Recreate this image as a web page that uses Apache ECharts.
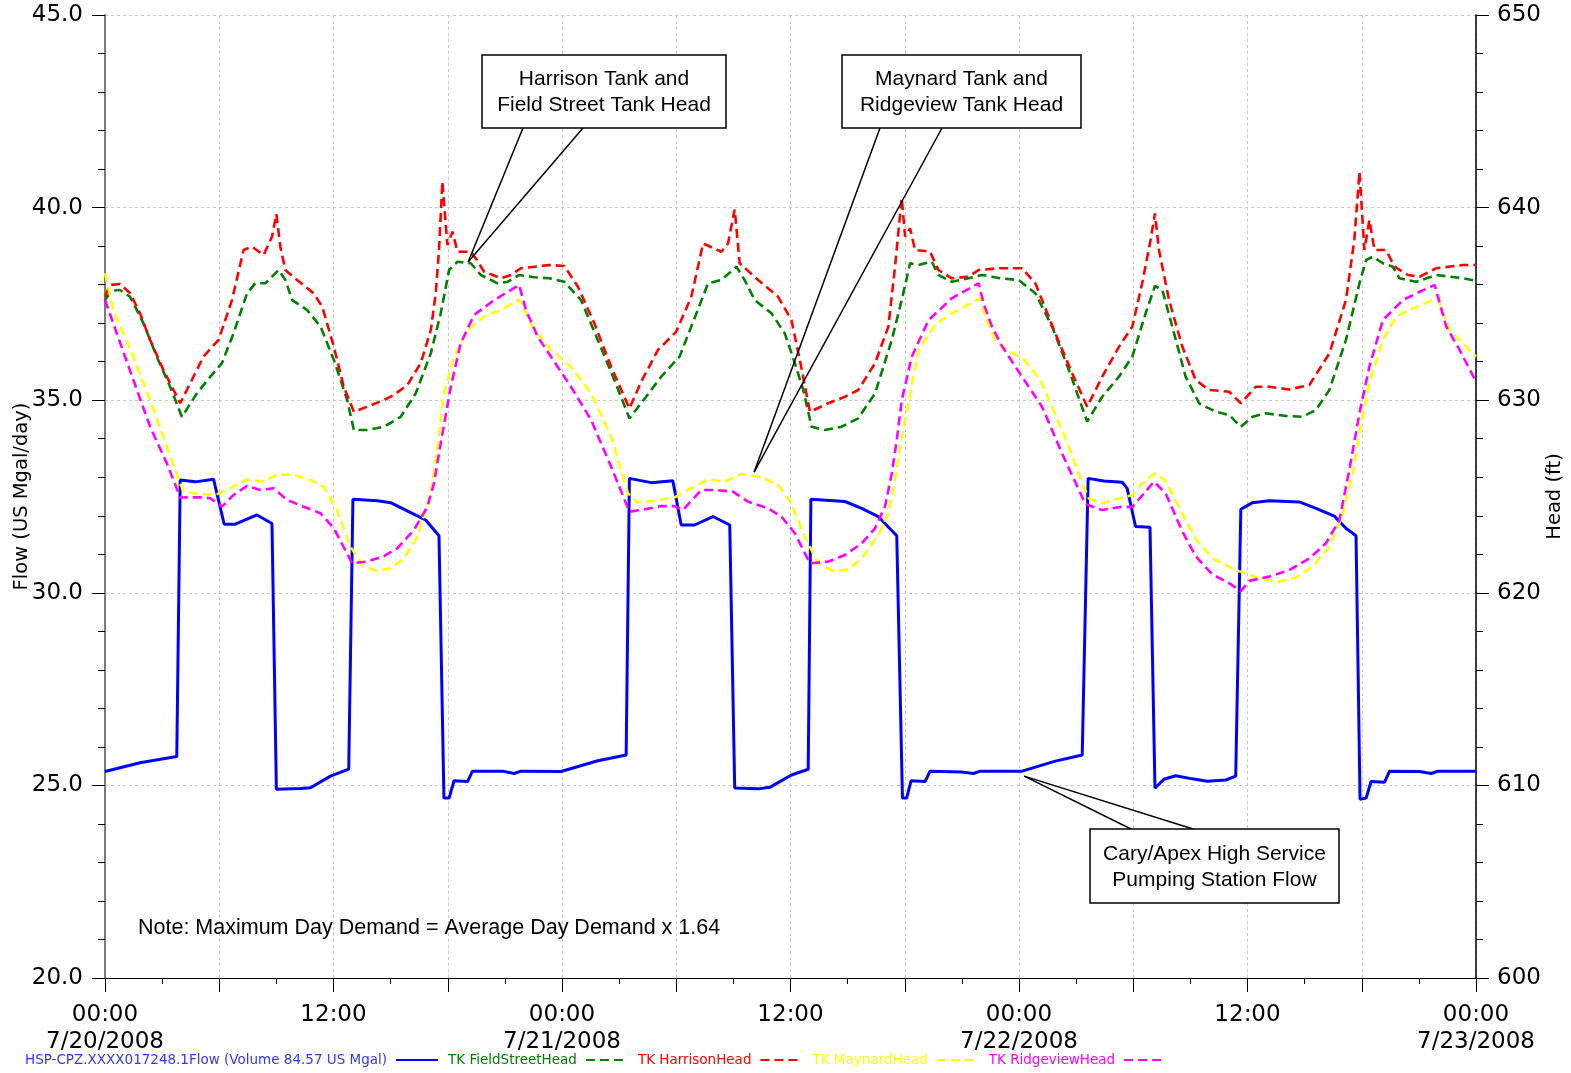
<!DOCTYPE html>
<html><head><meta charset="utf-8">
<script src="https://cdn.jsdelivr.net/npm/echarts@6/dist/echarts.min.js"></script>
<style>html,body{margin:0;padding:0;background:#fff}#c{width:1571px;height:1073px}</style>
</head><body><div id="c"></div>
<script>
const flowName = 'HSP-CPZ.XXXX017248.1Flow (Volume 84.57 US Mgal)';
const seriesNames = [flowName, 'TK FieldStreetHead', 'TK HarrisonHead', 'TK MaynardHead', 'TK RidgeviewHead'];
const seriesColors = ['#0000ff', '#008000', '#ff0000', '#ffff00', '#ff00ff'];
const xTickHours = [0, 12, 24, 36, 48, 60, 72];
const xTickLabels = ['00:00\n7/20/2008', '12:00', '00:00\n7/21/2008', '12:00', '00:00\n7/22/2008', '12:00', '00:00\n7/23/2008'];

// [hour since 7/20/2008 00:00, flow in US Mgal/day]
const flowData = [
[0,25.36],[1.84,25.59],[3.77,25.75],[3.95,32.93],[4.74,32.88],[5.70,32.95],[5.79,32.95],[6.26,31.78],[6.84,31.78],[7.98,32.02],[8.77,31.80],[9.00,24.90],[10.26,24.92],[10.79,24.94],[11.84,25.24],[12.80,25.42],[13.02,32.43],[14.30,32.39],[15.00,32.34],[16.05,32.08],[16.84,31.89],[17.54,31.48],[17.80,24.67],[18.07,24.67],[18.33,25.12],[19.04,25.10],[19.30,25.37],[20.88,25.37],[21.49,25.31],[21.84,25.37],[23.95,25.36],
[25.88,25.64],[27.37,25.79],[27.54,32.97],[28.68,32.86],[29.82,32.91],[30.26,31.76],[30.96,31.76],[31.93,31.98],[32.81,31.76],[33.07,24.93],[34.30,24.91],[34.91,24.95],[36.05,25.27],[36.93,25.42],[37.07,32.43],[38.86,32.37],[39.74,32.19],[40.61,31.98],[41.58,31.48],[41.88,24.67],[42.10,24.67],[42.33,25.12],[43.07,25.10],[43.33,25.37],[44.99,25.35],[45.61,25.31],[45.96,25.37],[48.16,25.37],
[49.91,25.63],[51.32,25.79],[51.63,32.97],[52.46,32.90],[53.42,32.87],[53.68,32.71],[54.12,31.72],[54.88,31.70],[55.14,24.93],[55.61,25.16],[56.23,25.25],[57.10,25.17],[57.89,25.11],[58.86,25.14],[59.38,25.24],[59.65,32.17],[60.26,32.34],[61.14,32.39],[62.72,32.36],[63.60,32.19],[64.56,31.99],[65.18,31.67],[65.70,31.48],[65.91,24.64],[66.23,24.67],[66.49,25.10],[67.19,25.08],[67.46,25.37],[69.04,25.36],[69.65,25.31],[70.00,25.37],[72.00,25.37]
];

// [hour, head in ft]
const fieldStreetData = [
[0,635.20],[0.35,635.69],[0.79,635.72],[1.32,635.37],[2.02,633.99],[2.72,632.26],[3.42,630.70],[4.04,629.14],[4.83,630.36],[5.53,631.22],[6.14,631.92],[6.75,633.47],[7.46,635.55],[7.89,636.07],[8.42,636.07],[9.12,636.76],[9.47,636.24],[9.83,635.20],[10.62,634.68],[11.32,633.82],[12.02,632.09],[12.72,630.01],[13.07,628.45],[13.77,628.45],[14.65,628.62],[15.53,629.14],[16.32,630.36],[17.11,632.43],[17.63,634.51],[18.07,636.76],[18.51,637.19],[19.21,637.11],[19.74,636.50],[20.62,636.07],[21.14,636.15],[21.75,636.50],[22.54,636.38],[23.33,636.33],
[24.12,636.15],[25.00,635.20],[25.88,633.13],[26.75,631.05],[27.54,629.06],[28.42,630.18],[29.21,631.22],[30.17,632.26],[30.79,633.82],[31.67,636.07],[32.37,636.24],[33.16,636.93],[33.59,636.24],[34.12,635.20],[35.00,634.51],[35.70,633.47],[36.23,631.92],[36.67,630.53],[37.11,628.62],[37.81,628.45],[38.68,628.62],[39.56,629.06],[40.44,630.36],[41.32,633.13],[41.84,635.20],[42.28,637.11],[42.72,637.02],[43.42,637.19],[43.77,636.50],[44.47,636.15],[45.35,636.33],[46.05,636.50],[47.02,636.33],
[47.98,636.24],[48.86,635.55],[49.74,633.82],[50.62,631.57],[51.58,628.89],[52.37,630.18],[53.25,631.22],[53.95,632.26],[54.65,634.51],[55.14,635.93],[55.53,635.72],[56.05,633.82],[56.75,631.22],[57.46,629.84],[58.33,629.40],[59.04,629.23],[59.65,628.62],[60.26,629.14],[60.96,629.32],[62.02,629.18],[62.89,629.14],[63.59,629.49],[64.30,630.53],[65.17,633.13],[65.88,636.07],[66.23,637.28],[66.58,637.45],[67.11,637.11],[67.63,636.93],[67.98,636.33],[68.86,636.15],[69.91,636.50],[71.32,636.33],[72.00,636.20]
];

const harrisonData = [
[0,635.37],[0.26,635.98],[0.79,636.03],[1.32,635.55],[1.84,634.51],[2.37,633.13],[3.07,631.57],[3.95,629.84],[4.56,631.05],[5.17,632.26],[5.96,633.13],[6.67,635.20],[7.28,637.80],[7.72,637.97],[8.33,637.54],[8.77,638.49],[9.00,639.66],[9.21,637.97],[9.47,636.76],[10.09,636.24],[10.96,635.55],[11.41,634.85],[12.02,632.77],[12.54,630.70],[13.07,629.40],[13.77,629.66],[14.65,630.01],[15.17,630.27],[15.88,630.79],[16.58,631.92],[17.11,633.64],[17.37,635.55],[17.54,637.80],[17.72,641.35],[17.98,638.06],[18.25,638.75],[18.51,637.71],[19.21,637.71],[19.47,637.37],[19.91,636.67],[20.79,636.33],[21.32,636.50],[21.84,636.85],[22.54,636.93],[23.33,637.02],
[24.12,636.97],[24.83,635.90],[25.70,633.99],[26.58,631.74],[27.54,629.57],[28.16,630.96],[29.04,632.61],[30.00,633.56],[30.79,635.37],[31.41,638.14],[32.37,637.71],[32.72,638.14],[33.07,639.90],[33.33,637.11],[34.30,636.24],[35.35,635.37],[36.05,634.16],[36.49,632.09],[37.02,629.40],[37.98,629.84],[38.86,630.18],[39.56,630.53],[40.44,631.92],[41.14,633.82],[41.49,636.93],[41.84,640.50],[42.02,638.49],[42.28,638.92],[42.54,637.80],[43.33,637.71],[43.77,636.76],[44.47,636.33],[45.35,636.41],[45.88,636.76],[46.93,636.85],
[48.16,636.85],[48.86,636.07],[49.91,633.47],[50.79,631.40],[51.58,629.66],[52.37,631.22],[53.25,632.77],[53.95,633.82],[54.47,636.07],[54.91,638.32],[55.14,639.70],[55.35,637.80],[55.88,635.20],[56.58,632.77],[57.28,631.05],[57.98,630.53],[59.04,630.44],[59.65,629.84],[60.44,630.70],[61.14,630.70],[62.19,630.56],[63.25,630.79],[64.30,632.43],[65.17,635.20],[65.61,638.32],[65.88,641.86],[66.14,637.80],[66.40,639.36],[66.67,637.80],[67.28,637.80],[67.72,636.93],[68.42,636.50],[69.04,636.41],[69.91,636.85],[71.32,637.02],[72.00,637.02]
];

const maynardData = [
[0,636.59],[0.44,634.68],[1.49,632.26],[2.37,630.01],[3.25,627.59],[3.95,625.68],[4.12,625.25],[5.00,625.13],[5.79,625.08],[6.41,625.34],[7.46,625.89],[8.33,625.77],[9.04,626.15],[9.91,626.12],[10.79,625.86],[11.49,625.51],[12.19,624.30],[12.89,622.39],[13.59,621.36],[14.30,621.13],[15.00,621.27],[15.70,621.79],[16.41,622.91],[17.11,625.17],[17.46,627.60],[17.81,630.40],[18.33,632.26],[19.04,633.64],[19.91,634.34],[20.79,634.68],[21.75,635.24],[22.01,634.68],[22.54,633.64],[23.42,632.61],
[24.47,631.74],[25.53,630.36],[26.58,628.10],[27.46,625.17],[27.98,624.68],[28.86,624.78],[29.91,624.96],[30.62,625.34],[31.67,625.89],[32.54,625.77],[33.42,626.17],[34.47,626.00],[35.35,625.60],[36.05,624.65],[36.75,622.91],[37.46,621.53],[38.33,621.10],[39.04,621.22],[39.74,621.79],[40.61,623.00],[41.14,624.13],[41.49,625.86],[41.84,628.00],[42.72,632.61],[43.59,633.90],[44.47,634.50],[45.96,635.29],[46.23,634.34],[46.75,633.13],[47.11,632.80],
[48.28,632.09],[49.12,631.05],[49.74,629.66],[50.62,627.59],[51.32,625.68],[51.67,624.90],[52.37,624.65],[53.25,624.90],[53.95,625.08],[54.65,625.86],[55.17,626.20],[55.70,625.82],[56.40,624.47],[57.28,622.80],[58.16,621.79],[59.38,621.18],[60.61,620.75],[61.67,620.58],[62.54,620.80],[63.42,621.36],[64.30,622.39],[65.00,624.05],[65.53,626.20],[65.88,628.28],[66.40,630.88],[67.11,633.13],[67.81,634.34],[68.86,634.85],[70.00,635.29],[70.62,633.64],[71.32,632.95],[72.00,632.26]
];

const ridgeviewData = [
[0,635.20],[0.62,633.47],[1.49,631.05],[2.37,628.62],[3.25,626.72],[3.95,624.95],[5.00,624.96],[5.53,624.91],[6.14,624.47],[6.75,625.08],[7.46,625.55],[8.16,625.34],[8.86,625.43],[9.56,624.82],[10.44,624.47],[11.32,624.13],[12.02,623.35],[12.98,621.53],[13.77,621.62],[14.65,621.91],[15.35,622.31],[16.23,623.26],[16.93,624.47],[17.28,625.68],[17.63,627.76],[18.16,630.70],[18.68,632.95],[19.38,634.42],[20.44,635.20],[21.75,635.98],[22.11,634.68],[22.72,633.30],[23.42,632.26],
[24.47,630.70],[25.53,628.97],[26.58,626.55],[27.54,624.21],[28.16,624.30],[29.21,624.50],[29.91,624.50],[30.35,624.30],[31.32,625.34],[32.02,625.34],[32.98,625.25],[33.77,624.73],[34.82,624.39],[35.53,623.95],[36.23,623.09],[37.02,621.53],[37.98,621.62],[38.86,621.96],[39.74,622.57],[40.44,623.35],[40.96,624.47],[41.32,626.20],[41.58,627.93],[41.84,630.00],[42.37,632.26],[43.25,634.16],[44.47,635.29],[45.88,636.07],[46.14,635.03],[46.58,633.82],[47.11,632.80],
[48.16,631.22],[49.21,629.66],[50.26,627.24],[51.49,624.60],[52.37,624.30],[53.42,624.47],[53.95,624.45],[55.09,625.77],[55.70,625.17],[56.58,623.18],[57.28,621.90],[58.16,620.95],[59.04,620.50],[59.65,620.08],[60.09,620.62],[61.14,620.84],[62.19,621.18],[63.25,621.79],[64.12,622.57],[64.83,623.78],[65.35,626.40],[65.88,629.32],[66.40,631.74],[67.11,634.16],[68.16,635.20],[69.04,635.63],[69.83,635.98],[70.44,633.82],[71.14,632.61],[72.00,630.96]
];

const noteText = 'Note: Maximum Day Demand = Average Day Demand x 1.64';
const calloutTexts = ['Harrison Tank and\nField Street Tank Head', 'Maynard Tank and\nRidgeview Tank Head', 'Cary/Apex High Service\nPumping Station Flow'];
// callout anchor points in data space: [hour, value, yAxisIndex]
const calloutAnchors = [[19.07, 637.18, 1], [34.09, 626.27, 1], [48.27, 25.24, 0]];

const FONT = 'DejaVu Sans';
const ANN_FONT = '"Liberation Sans", Arial, sans-serif';
const chart = echarts.init(document.getElementById('c'), null, {renderer: 'canvas'});

const dataSets = [flowData, fieldStreetData, harrisonData, maynardData, ridgeviewData];
const series = dataSets.map((d, i) => ({
  name: seriesNames[i],
  type: 'line',
  yAxisIndex: i === 0 ? 0 : 1,
  data: d,
  symbol: 'none',
  animation: false,
  lineStyle: {color: seriesColors[i], width: i === 0 ? 3 : 2.6, type: i === 0 ? 'solid' : [9, 5]},
  itemStyle: {color: seriesColors[i]}
}));

const legendTextColors = ['#3535ff', '#008000', '#ff0000', '#ffff00', '#ff00ff'];

chart.setOption({
  animation: false,
  backgroundColor: '#fff',
  grid: {left: 105, right: 95, top: 15, bottom: 95, containLabel: false, outerBoundsMode: 'none'},
  legend: {
    left: 25, top: 1053, orient: 'horizontal', align: 'right',
    itemWidth: 42, itemHeight: 14, itemGap: 9, padding: 0,
    itemStyle: {opacity: 0, borderWidth: 0},
    data: seriesNames.map((n, i) => ({name: n, textStyle: {color: legendTextColors[i]}})),
    textStyle: {fontFamily: FONT, fontSize: 13.5, padding: [0, 4, 0, 0]}
  },
  xAxis: {
    type: 'value', min: 0, max: 72, interval: 6,
    axisLine: {show: true, onZero: false, lineStyle: {color: '#000', width: 1}},
    axisTick: {show: true, length: 14, lineStyle: {color: '#000'}},
    minorTick: {show: true, splitNumber: 2, length: 6, lineStyle: {color: '#000'}},
    splitLine: {show: true, lineStyle: {color: '#c8c8c8', type: [3, 3], width: 1}},
    axisLabel: {
      margin: 24, color: '#000', fontFamily: FONT, fontSize: 23, lineHeight: 27,
      formatter: v => { const k = xTickHours.indexOf(v); return k >= 0 ? xTickLabels[k] : ''; }
    }
  },
  yAxis: [{
    type: 'value', min: 20, max: 45, interval: 5, position: 'left',
    name: 'Flow (US Mgal/day)', nameLocation: 'middle', nameGap: 73, nameRotate: 90, nameMoveOverlap: false,
    nameTextStyle: {fontFamily: FONT, fontSize: 19.5, color: '#000'},
    axisLine: {show: true, lineStyle: {color: '#7a7a7a', width: 2}},
    axisTick: {show: true, length: 13, lineStyle: {color: '#000'}},
    minorTick: {show: true, splitNumber: 5, length: 7, lineStyle: {color: '#000'}},
    splitLine: {show: true, lineStyle: {color: '#c8c8c8', type: [3, 3], width: 1}},
    axisLabel: {margin: 22, color: '#000', fontFamily: FONT, fontSize: 23, formatter: v => v.toFixed(1)}
  }, {
    type: 'value', min: 600, max: 650, interval: 10, position: 'right',
    name: 'Head (ft)', nameLocation: 'middle', nameGap: 69, nameRotate: 90, nameMoveOverlap: false,
    nameTextStyle: {fontFamily: FONT, fontSize: 19.5, color: '#000'},
    axisLine: {show: true, lineStyle: {color: '#000', width: 1.5}},
    axisTick: {show: true, length: 13, lineStyle: {color: '#000'}},
    minorTick: {show: true, splitNumber: 5, length: 7, lineStyle: {color: '#000'}},
    splitLine: {show: false},
    axisLabel: {margin: 21, color: '#000', fontFamily: FONT, fontSize: 23}
  }],
  series: series
});

// annotation boxes (layout, pixel space) and callout lines to data anchors
const boxes = [
  {x: 482, y: 55, w: 244, h: 73, from: [523, 583]},
  {x: 842, y: 55, w: 239, h: 73, from: [880, 942]},
  {x: 1090, y: 829, w: 249, h: 74, from: [1131, 1193]}
];
const graphics = [];
boxes.forEach((b, i) => {
  const a = calloutAnchors[i];
  const p = chart.convertToPixel({xAxisIndex: 0, yAxisIndex: a[2]}, [a[0], a[1]]);
  const edgeY = i === 2 ? b.y : b.y + b.h;
  b.from.forEach(fx => graphics.push({
    type: 'line', z: 50,
    shape: {x1: fx, y1: edgeY, x2: p[0], y2: p[1]},
    style: {stroke: '#000', lineWidth: 1.5}
  }));
  graphics.push({
    type: 'rect', z: 51,
    shape: {x: b.x, y: b.y, width: b.w, height: b.h},
    style: {fill: '#fff', stroke: '#000', lineWidth: 1.5}
  });
  graphics.push({
    type: 'text', z: 52, x: b.x + b.w / 2, y: b.y + b.h / 2 + 1,
    style: {text: calloutTexts[i], fill: '#000', font: '21px ' + ANN_FONT,
      align: 'center', verticalAlign: 'middle', lineHeight: 26}
  });
});
graphics.push({
  type: 'text', z: 52, x: 138, y: 928,
  style: {text: noteText, fill: '#000', font: '21.5px ' + ANN_FONT, align: 'left', verticalAlign: 'middle'}
});
chart.setOption({graphic: graphics});
</script>
</body></html>
